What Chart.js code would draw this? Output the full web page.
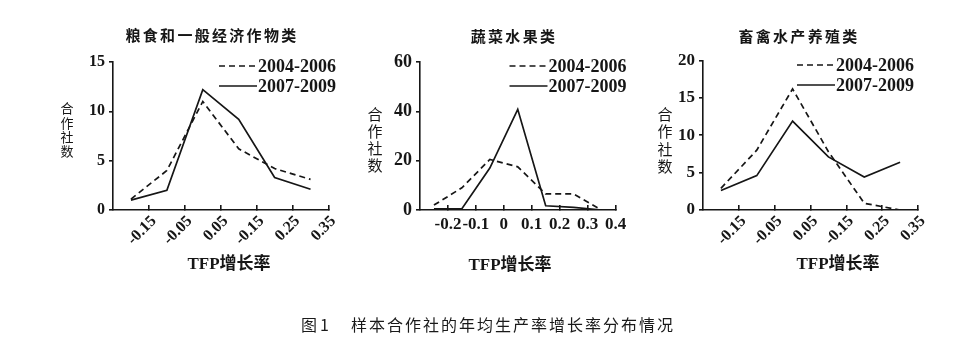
<!DOCTYPE html>
<html>
<head>
<meta charset="utf-8">
<script src="https://cdn.jsdelivr.net/npm/chart.js@4.4.0/dist/chart.umd.min.js"></script>
<style>
  body { margin: 0; background: #fff; width: 959px; height: 352px; overflow: hidden; position: relative; }
  canvas { position: absolute; left: 0; top: 0; }
  .cap { position: absolute; top: 314px; font: 16px 'Noto Sans CJK SC', sans-serif; line-height: 20px; color: #1a1a1a; white-space: nowrap; }
</style>
</head>
<body>
<canvas id="grainChart" width="959" height="352"></canvas>
<canvas id="vegChart" width="959" height="352"></canvas>
<canvas id="stockChart" width="959" height="352"></canvas>
<div class="cap" style="left:301px; letter-spacing:3px;">图1</div>
<div class="cap" style="left:351px; letter-spacing:2px;">样本合作社的年均生产率增长率分布情况</div>

<script>
// series names and axis text shared by the three panels
const seriesLabels = ['2004-2006', '2007-2009'];
const yTitleChars = ['合', '作', '社', '数'];
const xTitle = 'TFP增长率';

// 粮食和一般经济作物类
const grainX = [-0.2, -0.1, 0, 0.1, 0.2, 0.3];
const grain2004 = [1.1, 4, 11, 6.2, 4.2, 3.1];
const grain2007 = [1, 2, 12.2, 9.2, 3.3, 2.1];
const grainTicks = [-0.15, -0.05, 0.05, 0.15, 0.25, 0.35];
const grainTickLabels = ['-0.15', '-0.05', '0.05', '-0.15', '0.25', '0.35'];

// 蔬菜水果类
const vegX = [-0.25, -0.15, -0.05, 0.05, 0.15, 0.25, 0.35];
const veg2004 = [2, 9, 20.5, 17.5, 6.5, 6.5, 0];
const veg2007 = [0.5, 0.5, 17, 40.8, 1.7, 1.1, 0];
const vegTicks = [-0.2, -0.1, 0, 0.1, 0.2, 0.3, 0.4];
const vegTickLabels = ['-0.2', '-0.1', '0', '0.1', '0.2', '0.3', '0.4'];

// 畜禽水产养殖类
const stockX = [-0.2, -0.1, 0, 0.1, 0.2, 0.3];
const stock2004 = [2.9, 8, 16.2, 7.8, 0.9, 0];
const stock2007 = [2.6, 4.6, 11.9, 7.1, 4.4, 6.4];
const stockTicks = [-0.15, -0.05, 0.05, 0.15, 0.25, 0.35];
const stockTickLabels = ['-0.15', '-0.05', '0.05', '-0.15', '0.25', '0.35'];

const ink = '#161616';
const serif = 'Liberation Serif';
const cjk = 'Noto Sans CJK SC';

function toPoints(xs, ys) {
    return xs.map((x, i) => ({ x: x, y: ys[i] }));
}

// titles, vertical y label, x title and the line legend
const panelText = {
    id: 'panelText',
    afterDraw(chart) {
        const o = chart.options.plugins.panelText;
        const ctx = chart.ctx;
        ctx.save();
        ctx.fillStyle = ink;
        ctx.textBaseline = 'middle';

        ctx.font = 'bold 15px "' + cjk + '"';
        ctx.letterSpacing = '2.3px';
        ctx.textAlign = 'center';
        ctx.fillText(o.title, o.titleX, o.titleY);

        ctx.letterSpacing = '0px';
        ctx.font = o.yTitleSize + 'px "' + cjk + '"';
        yTitleChars.forEach((ch, i) => {
            ctx.fillText(ch, o.yTitleX, o.yTitleY + i * o.yTitleStep);
        });

        ctx.font = 'bold 17px "' + serif + '", "' + cjk + '"';
        ctx.fillText(xTitle, o.xTitleX, o.xTitleY);

        // legend
        ctx.textAlign = 'left';
        ctx.font = 'bold 18px "' + serif + '"';
        ctx.strokeStyle = ink;
        ctx.lineWidth = 1.6;
        chart.data.datasets.forEach((ds, i) => {
            const y = o.legendY + i * 20;
            ctx.setLineDash(ds.borderDash || []);
            ctx.beginPath();
            ctx.moveTo(o.legendX, y);
            ctx.lineTo(o.legendX + 38, y);
            ctx.stroke();
            ctx.setLineDash([]);
            ctx.fillText(ds.label, o.legendX + 39, y + 1);
        });
        ctx.restore();
    }
};

function buildPanel(id, p) {
    const ctx = document.getElementById(id).getContext('2d');
    return new Chart(ctx, {
        type: 'line',
        data: {
            datasets: [{
                label: seriesLabels[0],
                data: toPoints(p.xs, p.s2004),
                borderColor: ink,
                borderWidth: 1.7,
                borderDash: [6, 4],
                pointRadius: 0,
                fill: false,
                tension: 0
            }, {
                label: seriesLabels[1],
                data: toPoints(p.xs, p.s2007),
                borderColor: ink,
                borderWidth: 1.7,
                pointRadius: 0,
                fill: false,
                tension: 0
            }]
        },
        options: {
            responsive: false,
            animation: false,
            devicePixelRatio: 1,
            layout: {
                autoPadding: false,
                padding: { left: p.left - 40, right: 959 - p.right, top: p.top, bottom: 352 - 210 - 40 }
            },
            plugins: {
                legend: { display: false },
                tooltip: { enabled: false },
                panelText: p.text
            },
            scales: {
                x: {
                    type: 'linear',
                    min: p.xMin,
                    max: p.xMax,
                    afterBuildTicks: (s) => { s.ticks = p.ticks.map(v => ({ value: v })); },
                    afterFit: (s) => { s.height = 40; },
                    border: { color: ink, width: 1.6 },
                    grid: { drawOnChartArea: false, tickLength: -5, color: ink, lineWidth: 1.6 },
                    ticks: {
                        color: ink,
                        autoSkip: false,
                        maxRotation: p.rotation,
                        minRotation: p.rotation,
                        padding: p.xPad,
                        labelOffset: p.xShift,
                        font: { family: serif, size: p.xFont, weight: 'bold' },
                        callback: (v, i) => p.tickLabels[i]
                    }
                },
                y: {
                    min: 0,
                    max: p.yMax,
                    afterFit: (s) => { s.width = 40; },
                    border: { color: ink, width: 1.6 },
                    grid: { drawOnChartArea: false, tickLength: 4, color: ink, lineWidth: 1.6 },
                    ticks: {
                        stepSize: p.yStep,
                        color: ink,
                        padding: 4,
                        font: { family: serif, size: p.yFont, weight: 'bold' }
                    }
                }
            }
        },
        plugins: [panelText]
    });
}

const grainChart = buildPanel('grainChart', {
    xs: grainX, s2004: grain2004, s2007: grain2007,
    ticks: grainTicks, tickLabels: grainTickLabels,
    xMin: -0.25, xMax: 0.35, yMax: 15, yStep: 5,
    left: 113, right: 328.5, top: 62,
    rotation: 45, xPad: 7, xShift: 5, xFont: 16, yFont: 16,
    text: {
        title: '粮食和一般经济作物类', titleX: 212, titleY: 35,
        yTitleX: 67, yTitleY: 108.5, yTitleStep: 14.2, yTitleSize: 13,
        xTitleX: 229, xTitleY: 265,
        legendX: 219, legendY: 66
    }
});

const vegChart = buildPanel('vegChart', {
    xs: vegX, s2004: veg2004, s2007: veg2007,
    ticks: vegTicks, tickLabels: vegTickLabels,
    xMin: -0.3, xMax: 0.4, yMax: 60, yStep: 20,
    left: 420, right: 615.5, top: 62,
    rotation: 0, xPad: 9, xShift: 0, xFont: 17, yFont: 18,
    text: {
        title: '蔬菜水果类', titleX: 514, titleY: 36.5,
        yTitleX: 375, yTitleY: 114.5, yTitleStep: 17, yTitleSize: 15,
        xTitleX: 510, xTitleY: 266,
        legendX: 509.5, legendY: 66
    }
});

const stockChart = buildPanel('stockChart', {
    xs: stockX, s2004: stock2004, s2007: stock2007,
    ticks: stockTicks, tickLabels: stockTickLabels,
    xMin: -0.25, xMax: 0.35, yMax: 20, yStep: 5,
    left: 703, right: 918, top: 60.5,
    rotation: 45, xPad: 7, xShift: 5, xFont: 16, yFont: 17,
    text: {
        title: '畜禽水产养殖类', titleX: 799, titleY: 36.5,
        yTitleX: 665, yTitleY: 114, yTitleStep: 17.5, yTitleSize: 15,
        xTitleX: 838, xTitleY: 264.5,
        legendX: 797, legendY: 65
    }
});
</script>
</body>
</html>
